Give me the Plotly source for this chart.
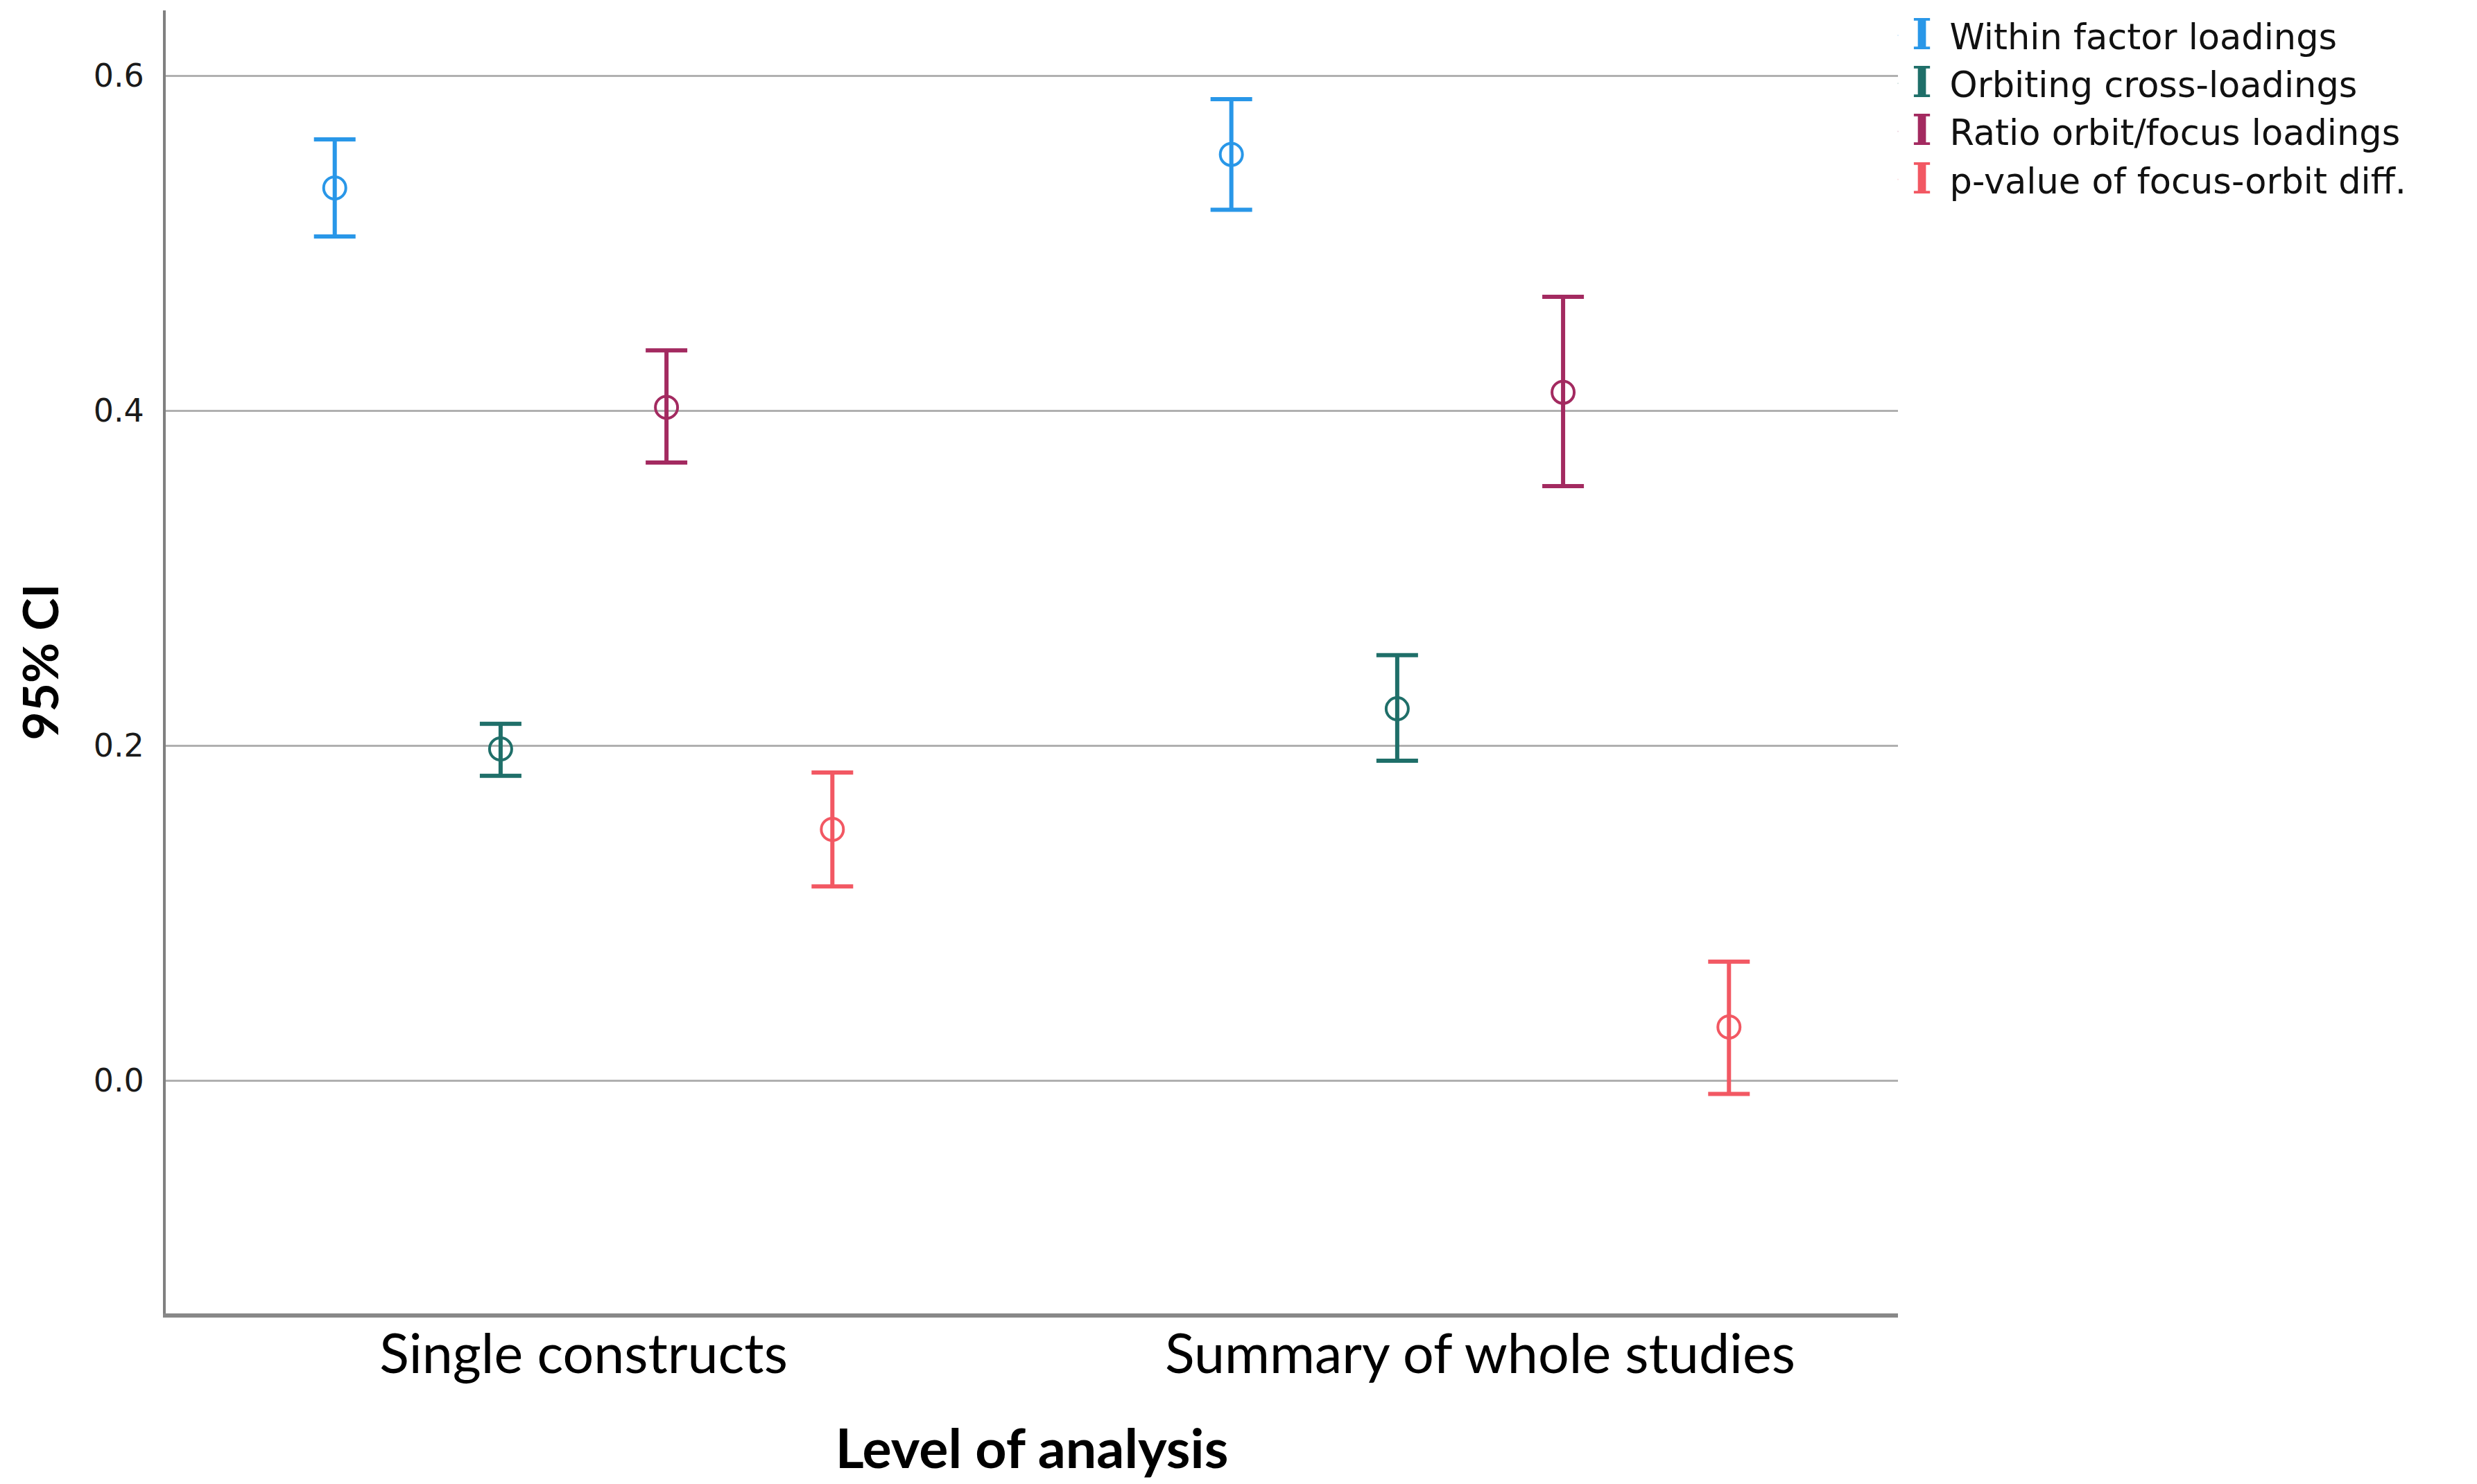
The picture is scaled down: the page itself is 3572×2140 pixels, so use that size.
import plotly.graph_objects as go

# level of analysis categories
levels = ["Single constructs", "Summary of whole studies"]

series_names = [
    "Within factor loadings",
    "Orbiting cross-loadings",
    "Ratio orbit/focus loadings",
    "p-value of focus-orbit diff.",
]

# means and 95% CI bounds, one value per level
within_mean = [0.533, 0.553]
within_low = [0.504, 0.520]
within_high = [0.562, 0.586]

orbit_mean = [0.198, 0.222]
orbit_low = [0.182, 0.191]
orbit_high = [0.213, 0.254]

ratio_mean = [0.402, 0.411]
ratio_low = [0.369, 0.355]
ratio_high = [0.436, 0.468]

pval_mean = [0.150, 0.032]
pval_low = [0.116, -0.008]
pval_high = [0.184, 0.071]

colors = ["#2997e8", "#1f6f69", "#a32a60", "#f25863"]

y_ticks = [0.0, 0.2, 0.4, 0.6]


def make_fig():
    fig = go.Figure()
    means = [within_mean, orbit_mean, ratio_mean, pval_mean]
    lows = [within_low, orbit_low, ratio_low, pval_low]
    highs = [within_high, orbit_high, ratio_high, pval_high]

    for name, m, lo, hi, c in zip(series_names, means, lows, highs, colors):
        fig.add_trace(go.Scatter(
            x=levels,
            y=m,
            mode="markers",
            name=name,
            showlegend=False,
            marker=dict(symbol="circle-open", size=32, color=c,
                        line=dict(width=4, color=c)),
            error_y=dict(
                type="data",
                symmetric=False,
                array=[h - v for h, v in zip(hi, m)],
                arrayminus=[v - l for v, l in zip(m, lo)],
                color=c,
                thickness=6,
                width=30,
            ),
        ))

    # legend entries: a coloured serif "I" mimics the error-bar glyph
    # (kept on a hidden x2 axis so they don't take a slot in the grouping)
    for name, c in zip(series_names, colors):
        label = ('<span style="color:%s;font-family:\'DejaVu Serif\';'
                 'font-weight:bold;font-size:62px">I</span>\u2002%s' % (c, name))
        fig.add_trace(go.Scatter(
            x=[None],
            y=[None],
            xaxis="x2",
            mode="markers",
            name=label,
            marker=dict(size=1, opacity=0, color=c),
        ))

    fig.update_layout(
        width=3572,
        height=2140,
        paper_bgcolor="white",
        plot_bgcolor="white",
        margin=dict(l=231, r=843, t=7, b=254, autoexpand=False),
        scattermode="group",
        scattergap=0.26,
        xaxis2=dict(overlaying="x", visible=False),
        legend=dict(
            x=0.992, y=1.002, xanchor="left", yanchor="top",
            font=dict(family="DejaVu Sans", size=51, color="#111111"),
            itemwidth=30,
            tracegroupgap=0,
            bgcolor="rgba(0,0,0,0)",
        ),
        xaxis=dict(
            type="category",
            range=[-0.466, 1.466],
            showgrid=False,
            showline=True,
            linecolor="#888888",
            linewidth=6,
            ticks="",
            ticklabelstandoff=-15,
            tickfont=dict(family="Lato", size=79, color="#000000"),
            title=dict(text="<b>Level of analysis</b>", standoff=68,
                       font=dict(family="Lato", size=79, color="#000000")),
            zeroline=False,
        ),
        yaxis=dict(
            range=[-0.139, 0.639],
            tickvals=y_ticks,
            ticktext=["%.1f" % v for v in y_ticks],
            showgrid=True,
            gridcolor="#b0b0b0",
            gridwidth=3,
            showline=True,
            linecolor="#808080",
            linewidth=4,
            ticks="",
            ticklabelstandoff=18,
            tickfont=dict(family="DejaVu Sans", size=46, color="#1a1a1a"),
            zeroline=False,
        ),
        annotations=[dict(
            text="<b>95% CI</b>",
            textangle=-90,
            xref="paper", yref="paper",
            x=-0.0729, y=0.5,
            xanchor="center", yanchor="middle",
            showarrow=False,
            font=dict(family="Lato", size=71, color="#000000"),
        )],
    )
    return fig


if __name__ == "__main__":
    fig = make_fig()
    fig.write_html("out.html")
